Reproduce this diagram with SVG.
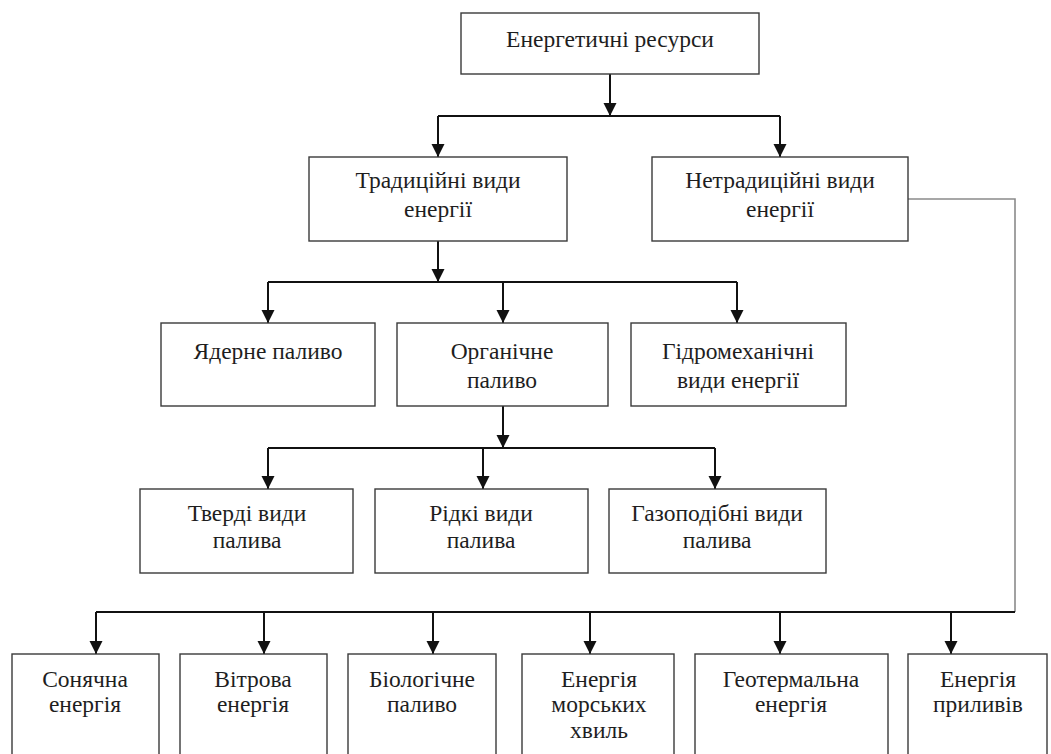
<svg xmlns="http://www.w3.org/2000/svg" width="1051" height="754" viewBox="0 0 1051 754">
<defs>
<style>
.box{fill:#fff;stroke:#3a3a3a;stroke-width:1.4}
.t{font-size:23.5px;fill:#1e1e1e;text-anchor:middle}
.ln{fill:none;stroke:#111;stroke-width:2}
.gr{fill:none;stroke:#8a8a8a;stroke-width:1.6}
</style>
<marker id="ah" markerUnits="userSpaceOnUse" markerWidth="14" markerHeight="14" refX="13" refY="6.5" orient="auto" viewBox="0 0 14 14">
<path d="M0,0 L13,6.5 L0,13 z" fill="#111"/>
</marker>
</defs>
<rect width="1051" height="754" fill="#fff"/>

<g id="connectors">
<path class="ln" d="M610,74 V116" marker-end="url(#ah)"/>
<path class="ln" d="M438,116 H780"/>
<path class="ln" d="M438,116 V157" marker-end="url(#ah)"/>
<path class="ln" d="M780,116 V157" marker-end="url(#ah)"/>
<path class="ln" d="M438,241 V282" marker-end="url(#ah)"/>
<path class="ln" d="M268,282 H737"/>
<path class="ln" d="M268,282 V323" marker-end="url(#ah)"/>
<path class="ln" d="M503,282 V323" marker-end="url(#ah)"/>
<path class="ln" d="M737,282 V323" marker-end="url(#ah)"/>
<path class="ln" d="M503,406 V448" marker-end="url(#ah)"/>
<path class="ln" d="M268,448 H715"/>
<path class="ln" d="M268,448 V489" marker-end="url(#ah)"/>
<path class="ln" d="M483,448 V489" marker-end="url(#ah)"/>
<path class="ln" d="M715,448 V489" marker-end="url(#ah)"/>
<path class="gr" d="M908,199 H1015 V612"/>
<path class="ln" d="M96,612 H1015"/>
<path class="ln" d="M96,612 V654" marker-end="url(#ah)"/>
<path class="ln" d="M264,612 V654" marker-end="url(#ah)"/>
<path class="ln" d="M433,612 V654" marker-end="url(#ah)"/>
<path class="ln" d="M590,612 V654" marker-end="url(#ah)"/>
<path class="ln" d="M780,612 V654" marker-end="url(#ah)"/>
<path class="ln" d="M951,612 V654" marker-end="url(#ah)"/>
</g>

<g font-family="Liberation Serif, Times New Roman, serif">
<g id="n-resources"><rect class="box" x="461" y="13" width="298" height="61"/><text class="t" x="610" y="47">Енергетичні ресурси</text></g>
<g id="n-traditional"><rect class="box" x="309" y="157" width="258" height="84"/><text class="t" x="438" y="188">Традиційні види</text><text class="t" x="438" y="217">енергії</text></g>
<g id="n-nontraditional"><rect class="box" x="652" y="157" width="256" height="84"/><text class="t" x="780" y="188">Нетрадиційні види</text><text class="t" x="780" y="217">енергії</text></g>

<g id="n-nuclear"><rect class="box" x="161" y="323" width="214" height="83"/><text class="t" x="268" y="359">Ядерне паливо</text></g>
<g id="n-organic"><rect class="box" x="397" y="323" width="211" height="83"/><text class="t" x="502" y="359">Органічне</text><text class="t" x="502" y="388">паливо</text></g>
<g id="n-hydro"><rect class="box" x="631" y="323" width="215" height="83"/><text class="t" x="738" y="359">Гідромеханічні</text><text class="t" x="738" y="388">види енергії</text></g>

<g id="n-solid"><rect class="box" x="140" y="489" width="213" height="84"/><text class="t" x="247" y="521">Тверді види</text><text class="t" x="247" y="548">палива</text></g>
<g id="n-liquid"><rect class="box" x="375" y="489" width="213" height="84"/><text class="t" x="481" y="521">Рідкі види</text><text class="t" x="481" y="548">палива</text></g>
<g id="n-gas"><rect class="box" x="609" y="489" width="217" height="84"/><text class="t" x="717" y="521">Газоподібні види</text><text class="t" x="717" y="548">палива</text></g>

<g id="n-solar"><rect class="box" x="12" y="654" width="147" height="120"/><text class="t" x="85" y="687">Сонячна</text><text class="t" x="85" y="712">енергія</text></g>
<g id="n-wind"><rect class="box" x="180" y="654" width="147" height="120"/><text class="t" x="253" y="687">Вітрова</text><text class="t" x="253" y="712">енергія</text></g>
<g id="n-bio"><rect class="box" x="348" y="654" width="148" height="120"/><text class="t" x="422" y="687">Біологічне</text><text class="t" x="422" y="712">паливо</text></g>
<g id="n-waves"><rect class="box" x="522" y="654" width="152" height="120"/><text class="t" x="599" y="687">Енергія</text><text class="t" x="599" y="712">морських</text><text class="t" x="599" y="738">хвиль</text></g>
<g id="n-geo"><rect class="box" x="695" y="654" width="193" height="120"/><text class="t" x="791" y="687">Геотермальна</text><text class="t" x="791" y="712">енергія</text></g>
<g id="n-tides"><rect class="box" x="908" y="654" width="139" height="120"/><text class="t" x="978" y="687">Енергія</text><text class="t" x="978" y="712">приливів</text></g>
</g>
</svg>
